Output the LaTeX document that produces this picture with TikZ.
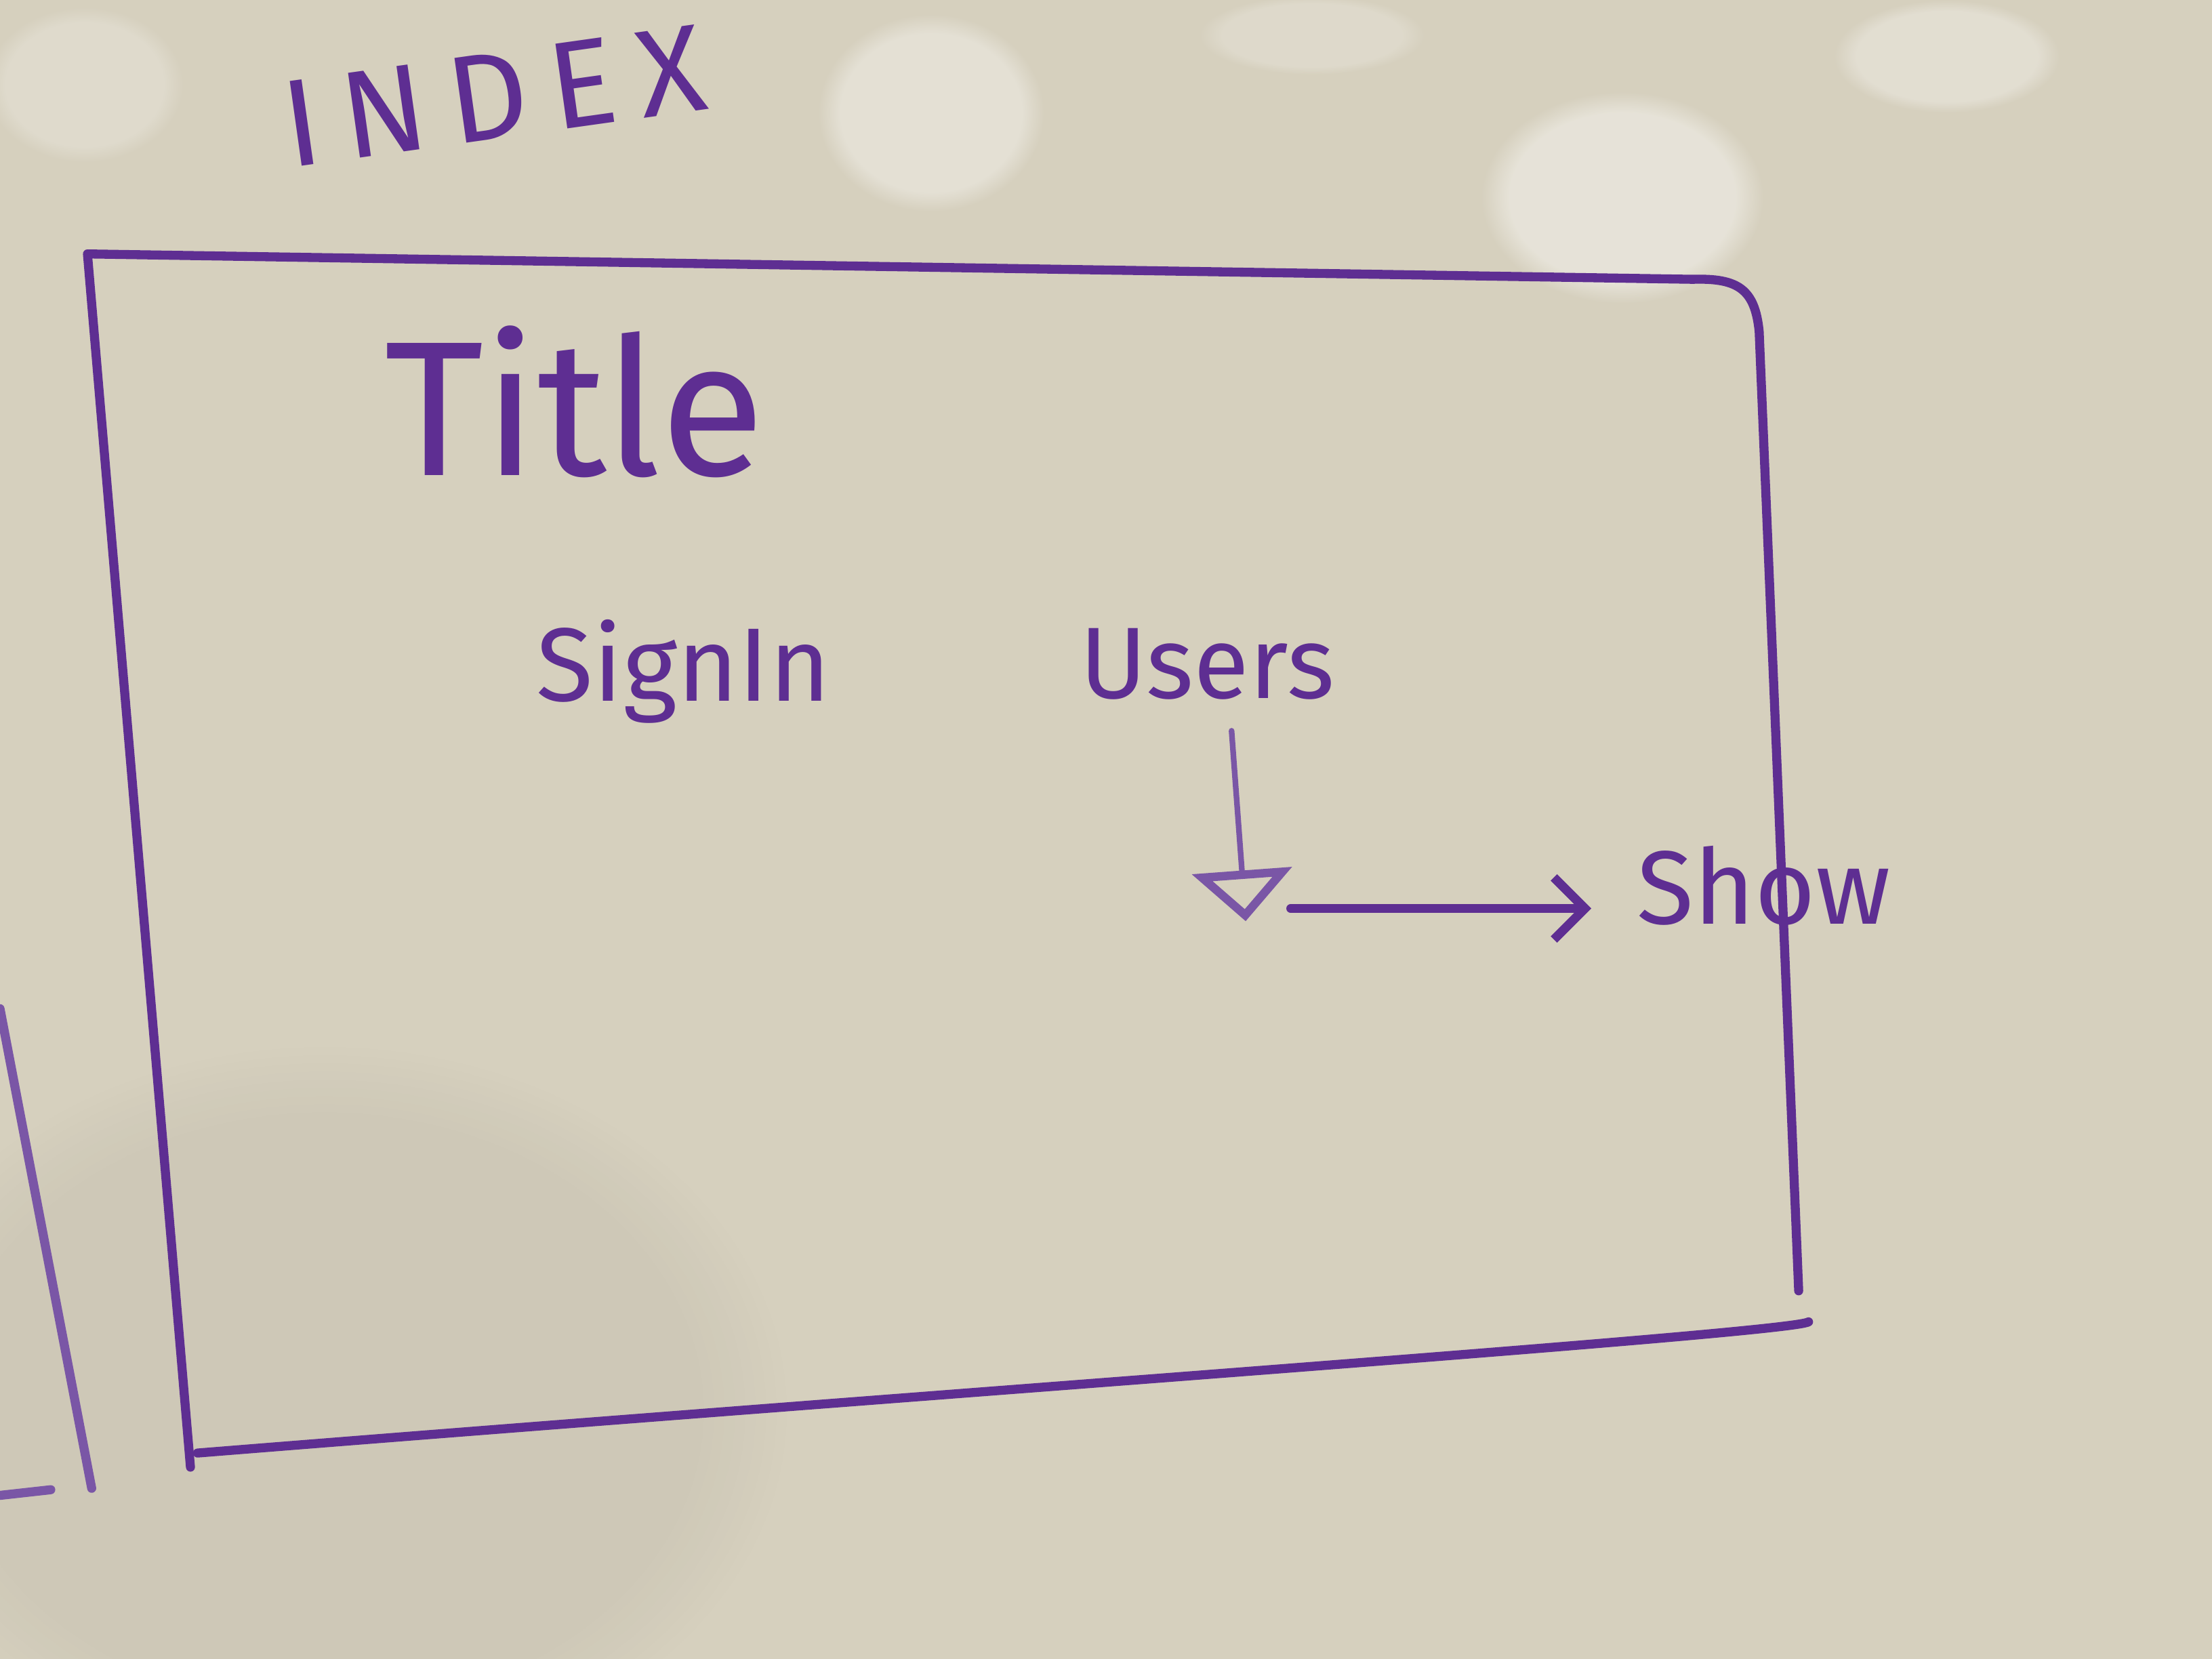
\documentclass[tikz,border=0pt]{standalone}
\usepackage{fontspec}
\setmainfont{Fira Sans}
\newfontfamily\spaced{Fira Sans}[LetterSpace=18]
\usetikzlibrary{arrows.meta,fadings}
\definecolor{board}{HTML}{D6D0BE}
\definecolor{ink}{HTML}{5E2E92}
\definecolor{inklight}{HTML}{7A56A6}
\begin{document}
\begin{tikzpicture}[x=0.5pt,y=-0.5pt,
  txt/.style={text=ink, inner sep=0pt, anchor=base west},
  stroke/.style={draw=ink, line width=3.2pt, line cap=round, line join=round},
  thin/.style={draw=inklight, line width=2pt, line cap=round},
  glare/.style={fill=white, path fading=circle with fuzzy edge 20 percent}]
\fill[board] (0,0) rectangle (1568,1176);
\useasboundingbox (0,0) rectangle (1568,1176);
% lighting
\fill[black, opacity=0.035, path fading=circle with fuzzy edge 20 percent] (230,1000) ellipse (330 and 260);
\fill[glare, opacity=0.35] (660,80) ellipse (80 and 70);
\fill[glare, opacity=0.4] (1150,140) ellipse (100 and 75);
\fill[glare, opacity=0.3] (1380,40) ellipse (80 and 40);
\fill[glare, opacity=0.22] (60,60) ellipse (70 and 55);
\fill[glare, opacity=0.2] (930,25) ellipse (80 and 28);
% texts
\node[txt, font=\spaced\fontsize{44}{44}\selectfont, rotate=8, anchor=center] (index) at (350,68) {INDEX};
\node[txt, font=\fontsize{68}{68}\selectfont] (title) at (272,337) {Title};
\node[txt, font=\fontsize{37}{37}\selectfont] (signin) at (380,497) {SignIn};
\node[txt, font=\fontsize{36}{36}\selectfont] (users) at (765,495) {Users};
\node[txt, font=\fontsize{37}{37}\selectfont] (show) at (1160,655) {Show};
% page frame
\draw[stroke] (135,1040) -- (62,180) -- (1200,198)
  .. controls (1232,197) and (1244,205) .. (1247,235) -- (1275,915);
\draw[stroke] (1282,937) .. controls (1270,945) and (700,985) .. (140,1030);
% neighbouring frame at the left edge
\draw[stroke, draw=inklight] (0,715) -- (65,1055);
\draw[stroke, draw=inklight] (0,1060) -- (36,1056);
% connectors
\coordinate (vtop) at (873,518);
\coordinate (vtip) at (883,653);
\coordinate (hstart) at (915,644);
\draw[thin, -{Triangle[open, length=18pt, width=35pt, line width=3pt]}] (vtop) -- (vtip);
\draw[stroke, -{Straight Barb[length=11pt, width=22pt, line width=3.2pt]}]
  (hstart) -- ([xshift=-16]show.west |- hstart);
\end{tikzpicture}
\end{document}
